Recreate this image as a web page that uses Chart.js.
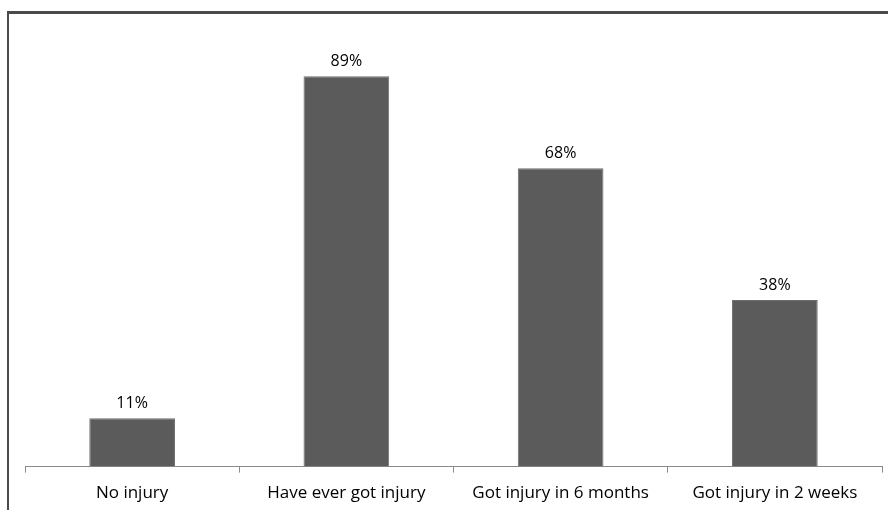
<!DOCTYPE html>
<html>
<head>
<meta charset="utf-8">
<script src="https://cdn.jsdelivr.net/npm/chart.js@4"></script>
<style>
  body { margin: 0; background: #fff; }
  #wrap { position: relative; width: 888px; height: 510px; overflow: hidden; }
  #frame { position: absolute; left: 7px; top: 11px; right: 0; bottom: 0;
           border-top: 3px solid #4a4a4a; border-left: 2px solid #4a4a4a; }
  canvas { position: absolute; left: 0; top: 0; }
</style>
</head>
<body>
<div id="wrap">
  <div id="frame"></div>
  <canvas id="chart" width="888" height="519"></canvas>
</div>
<script>
// categories and values
const categories = ['No injury', 'Have ever got injury', 'Got injury in 6 months', 'Got injury in 2 weeks'];
const values = [11, 89, 68, 38];

// draws the "NN%" labels above each bar
const valueLabels = {
    id: 'valueLabels',
    afterDatasetsDraw(chart) {
        const ctx = chart.ctx;
        const meta = chart.getDatasetMeta(0);
        ctx.save();
        ctx.font = '16px "Open Sans"';
        ctx.fillStyle = '#000';
        ctx.textAlign = 'center';
        ctx.textBaseline = 'alphabetic';
        meta.data.forEach((bar, i) => {
            ctx.fillText(values[i] + '%', bar.x, bar.y - 10);
        });
        ctx.restore();
    }
};

const ctx = document.getElementById('chart').getContext('2d');

new Chart(ctx, {
    type: 'bar',
    data: {
        labels: categories,
        datasets: [{
            data: values,
            backgroundColor: '#5b5b5b',
            borderColor: '#6e6e6e',
            borderWidth: 1,
            categoryPercentage: 1,
            barPercentage: 0.4
        }]
    },
    options: {
        responsive: false,
        animation: false,
        layout: { padding: { left: 25, right: 6, top: 28, bottom: 6 } },
        plugins: { legend: { display: false }, tooltip: { enabled: false } },
        scales: {
            y: { display: false, min: 0, max: 100 },
            x: {
                grid: { drawOnChartArea: false, tickLength: 6, color: '#8a8a8a', offset: true },
                border: { color: '#8a8a8a', width: 1 },
                ticks: { color: '#000', font: { family: 'Open Sans', size: 17 }, padding: 10, maxRotation: 0 }
            }
        }
    },
    plugins: [valueLabels]
});
</script>
</body>
</html>
